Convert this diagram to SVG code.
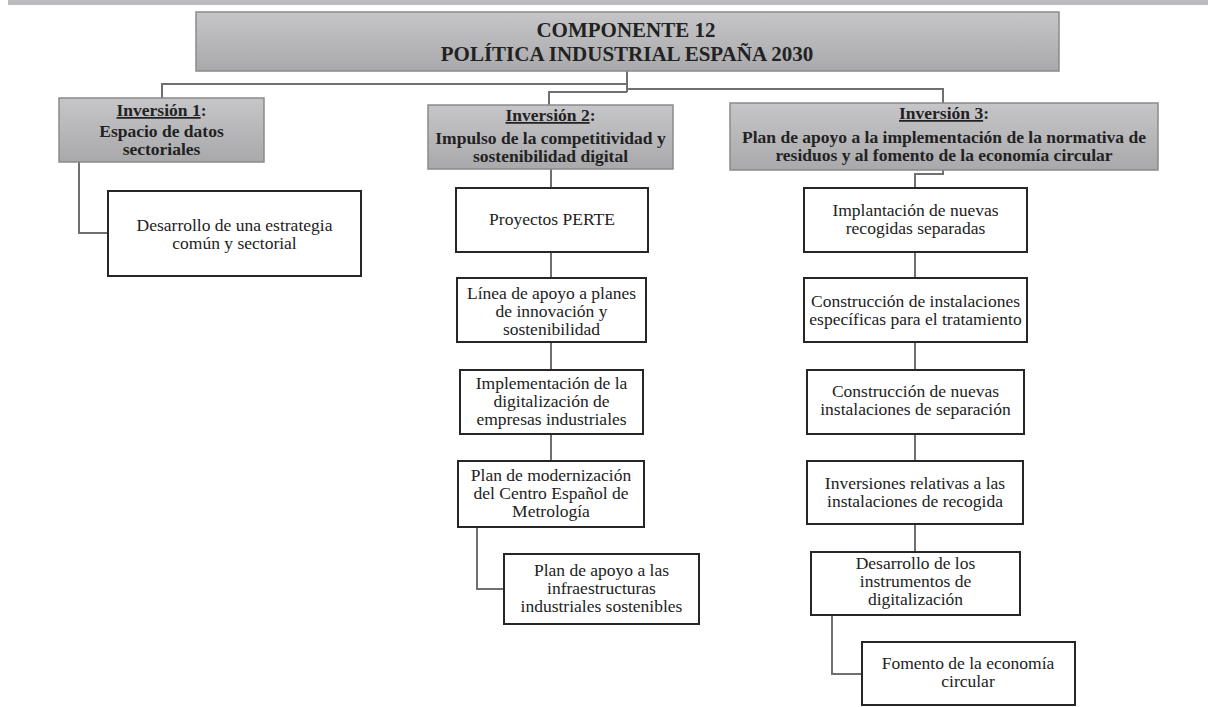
<svg xmlns="http://www.w3.org/2000/svg" width="1208" height="707" viewBox="0 0 1208 707">
<defs>
<linearGradient id="gr" x1="0" y1="0" x2="0" y2="1">
<stop offset="0" stop-color="#c6c6c8"/>
<stop offset="1" stop-color="#a9a9ab"/>
</linearGradient>
<style>
.hdr{fill:url(#gr);stroke:#8a8a8a;stroke-width:1.5}
.box{fill:#fff;stroke:#262626;stroke-width:2}
.t{font-family:"Liberation Serif","Times New Roman",serif;font-size:17.5px;fill:#222;text-anchor:middle}
.b{font-family:"Liberation Serif","Times New Roman",serif;font-size:17.5px;font-weight:bold;fill:#222;text-anchor:middle}
.ttl{font-family:"Liberation Serif","Times New Roman",serif;font-size:21px;font-weight:bold;fill:#222;text-anchor:middle}
.u{text-decoration:underline}
.c{fill:none;stroke:#707070;stroke-width:2}
</style>
</defs>
<rect x="8" y="0" width="1200" height="5" fill="#bcbcbe"/>

<g id="connectors">
<path class="c" d="M627,71 V92 M162,98 V84 H627 M549,105 V92 H627 M627,89 H943 V103"/>
<path class="c" d="M79,162 V233 H108"/>
<path class="c" d="M551,169 V188 M551,252 V278 M551,342 V370 M551,434 V461"/>
<path class="c" d="M477,527 V589 H504"/>
<path class="c" d="M943,170 V174 H915 V188 M915,252 V278 M915,342 V370 M915,434 V461 M915,524 V552"/>
<path class="c" d="M832,615 V674 H862"/>
</g>

<g id="title">
<rect class="hdr" x="196" y="12" width="863" height="59"/>
<text class="ttl" x="626" y="37">COMPONENTE 12</text>
<text class="ttl" x="627" y="61">POLÍTICA INDUSTRIAL ESPAÑA 2030</text>
</g>

<g id="inv1">
<rect class="hdr" x="59" y="98" width="205" height="64"/>
<text class="b" x="161.5" y="116"><tspan class="u">Inversión 1</tspan>:</text>
<text class="b" x="161.5" y="137">Espacio de datos</text>
<text class="b" x="161.5" y="155">sectoriales</text>
</g>

<g id="inv2">
<rect class="hdr" x="428" y="105" width="245" height="64"/>
<text class="b" x="550.5" y="121"><tspan class="u">Inversión 2</tspan>:</text>
<text class="b" x="550.5" y="144">Impulso de la competitividad y</text>
<text class="b" x="550.5" y="162">sostenibilidad digital</text>
</g>

<g id="inv3">
<rect class="hdr" x="730" y="103" width="428" height="67"/>
<text class="b" x="944" y="119"><tspan class="u">Inversión 3</tspan>:</text>
<text class="b" x="944" y="143">Plan de apoyo a la implementación de la normativa de</text>
<text class="b" x="944" y="161">residuos y al fomento de la economía circular</text>
</g>

<g id="n-estrategia">
<rect class="box" x="108" y="191" width="253" height="85"/>
<text class="t" x="234.5" y="231">Desarrollo de una estrategia</text>
<text class="t" x="234.5" y="249">común y sectorial</text>
</g>

<g id="n-perte">
<rect class="box" x="456" y="188" width="192" height="64"/>
<text class="t" x="552" y="225">Proyectos PERTE</text>
</g>

<g id="n-linea">
<rect class="box" x="457" y="278" width="189" height="64"/>
<text class="t" x="551.5" y="299">Línea de apoyo a planes</text>
<text class="t" x="551.5" y="317">de innovación y</text>
<text class="t" x="551.5" y="335">sostenibilidad</text>
</g>

<g id="n-impl">
<rect class="box" x="460" y="370" width="183" height="64"/>
<text class="t" x="551.5" y="389">Implementación de la</text>
<text class="t" x="551.5" y="407">digitalización de</text>
<text class="t" x="551.5" y="425">empresas industriales</text>
</g>

<g id="n-metrologia">
<rect class="box" x="458" y="461" width="186" height="66"/>
<text class="t" x="551" y="481">Plan de modernización</text>
<text class="t" x="551" y="499">del Centro Español de</text>
<text class="t" x="551" y="517">Metrología</text>
</g>

<g id="n-infra">
<rect class="box" x="504" y="554" width="195" height="70"/>
<text class="t" x="601.5" y="576">Plan de apoyo a las</text>
<text class="t" x="601.5" y="594">infraestructuras</text>
<text class="t" x="601.5" y="612">industriales sostenibles</text>
</g>

<g id="n-recogidas">
<rect class="box" x="804" y="188" width="223" height="64"/>
<text class="t" x="915.5" y="216">Implantación de nuevas</text>
<text class="t" x="915.5" y="234">recogidas separadas</text>
</g>

<g id="n-tratamiento">
<rect class="box" x="804" y="278" width="223" height="64"/>
<text class="t" x="915.5" y="307">Construcción de instalaciones</text>
<text class="t" x="915.5" y="325">específicas para el tratamiento</text>
</g>

<g id="n-separacion">
<rect class="box" x="807" y="370" width="217" height="64"/>
<text class="t" x="915.5" y="397">Construcción de nuevas</text>
<text class="t" x="915.5" y="415">instalaciones de separación</text>
</g>

<g id="n-recogida">
<rect class="box" x="807" y="461" width="216" height="63"/>
<text class="t" x="915" y="489">Inversiones relativas a las</text>
<text class="t" x="915" y="507">instalaciones de recogida</text>
</g>

<g id="n-digital">
<rect class="box" x="811" y="552" width="209" height="63"/>
<text class="t" x="915.5" y="569">Desarrollo de los</text>
<text class="t" x="915.5" y="587">instrumentos de</text>
<text class="t" x="915.5" y="605">digitalización</text>
</g>

<g id="n-circular">
<rect class="box" x="862" y="642" width="213" height="63"/>
<text class="t" x="968" y="669">Fomento de la economía</text>
<text class="t" x="968" y="687">circular</text>
</g>
</svg>
